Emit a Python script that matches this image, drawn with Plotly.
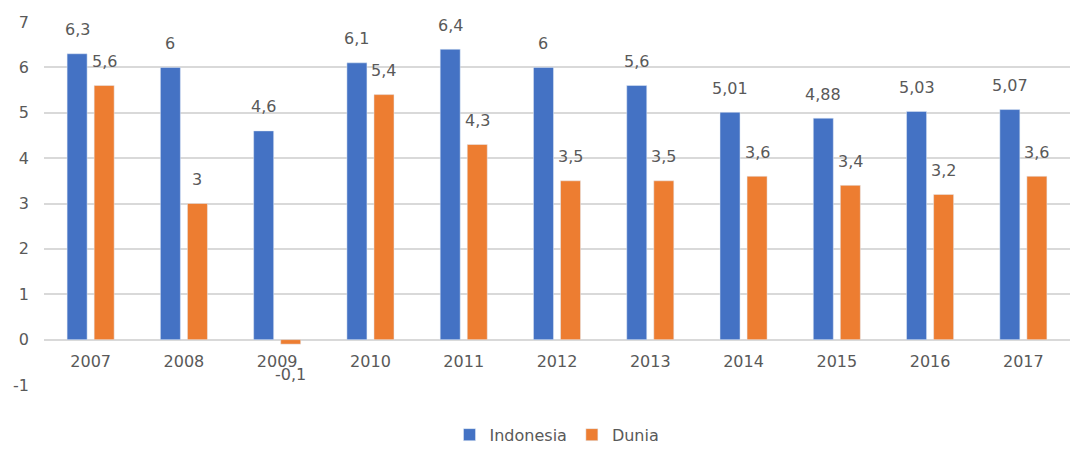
import plotly.graph_objects as go

years = ["2007", "2008", "2009", "2010", "2011", "2012", "2013", "2014", "2015", "2016", "2017"]
indonesia = [6.3, 6, 4.6, 6.1, 6.4, 6, 5.6, 5.01, 4.88, 5.03, 5.07]
dunia = [5.6, 3, -0.1, 5.4, 4.3, 3.5, 3.5, 3.6, 3.4, 3.2, 3.6]
indonesia_labels = ["6,3", "6", "4,6", "6,1", "6,4", "6", "5,6", "5,01", "4,88", "5,03", "5,07"]
dunia_labels = ["5,6", "3", "-0,1", "5,4", "4,3", "3,5", "3,5", "3,6", "3,4", "3,2", "3,6"]
y_ticks = [-1, 0, 1, 2, 3, 4, 5, 6, 7]
y_tick_text = ["-1", "0", "1", "2", "3", "4", "5", "6", "7"]

BLUE = "#4472C4"
ORANGE = "#ED7D31"
TEXT = "#595959"
GRID = "#D9D9D9"
FONT = "DejaVu Sans"

W, H = 1070, 452
ML, MR, MT, MB = 44, 0, 22, 64
BARGAP = 0.42
GROUPGAP = 0.26
plot_w = W - ML - MR
cat_w = plot_w / len(years)
slot = cat_w * (1 - BARGAP) / 2

fig = go.Figure()
fig.add_trace(go.Bar(x=years, y=indonesia, name="Indonesia", marker_color=BLUE))
fig.add_trace(go.Bar(x=years, y=dunia, name="Dunia", marker_color=ORANGE))

# category axes: annotation x is the category index
annotations = []
for i, (v, t) in enumerate(zip(indonesia, indonesia_labels)):
    annotations.append(dict(x=i, y=v, text=t, showarrow=False, xshift=-slot / 2,
                            yshift=24, yanchor="middle",
                            font=dict(family=FONT, size=16, color=TEXT)))
for i, (v, t) in enumerate(zip(dunia, dunia_labels)):
    ys = 24 if v >= 0 else -30
    annotations.append(dict(x=i, y=v, text=t, showarrow=False, xshift=slot / 2,
                            yshift=ys, yanchor="middle",
                            font=dict(family=FONT, size=16, color=TEXT)))

ymin, ymax = min(y_ticks), max(y_ticks)
fig.update_layout(
    width=W, height=H,
    margin=dict(l=ML, r=MR, t=MT, b=MB),
    plot_bgcolor="white", paper_bgcolor="white",
    barmode="group", bargap=BARGAP, bargroupgap=GROUPGAP,
    font=dict(family=FONT, size=16, color=TEXT),
    xaxis=dict(type="category", range=[-0.5, len(years) - 0.5],
               showgrid=False, showline=False, ticks="", anchor="free",
               position=(0 - ymin) / (ymax - ymin), ticklabelstandoff=10,
               tickfont=dict(size=16, color=TEXT)),
    yaxis=dict(range=[ymin, ymax], tickvals=y_ticks, ticktext=y_tick_text,
               showgrid=True, gridcolor=GRID,
               gridwidth=1.5, zeroline=True, zerolinecolor=GRID, zerolinewidth=1.5,
               showline=False, ticks="", ticklabelstandoff=14,
               tickfont=dict(size=16, color=TEXT)),
    legend=dict(orientation="h", x=0.5, xanchor="center", y=-0.137, yanchor="middle",
                font=dict(size=16, color=TEXT), itemwidth=30, traceorder="normal"),
    annotations=annotations,
    showlegend=True,
)

fig.write_html("out.html")
